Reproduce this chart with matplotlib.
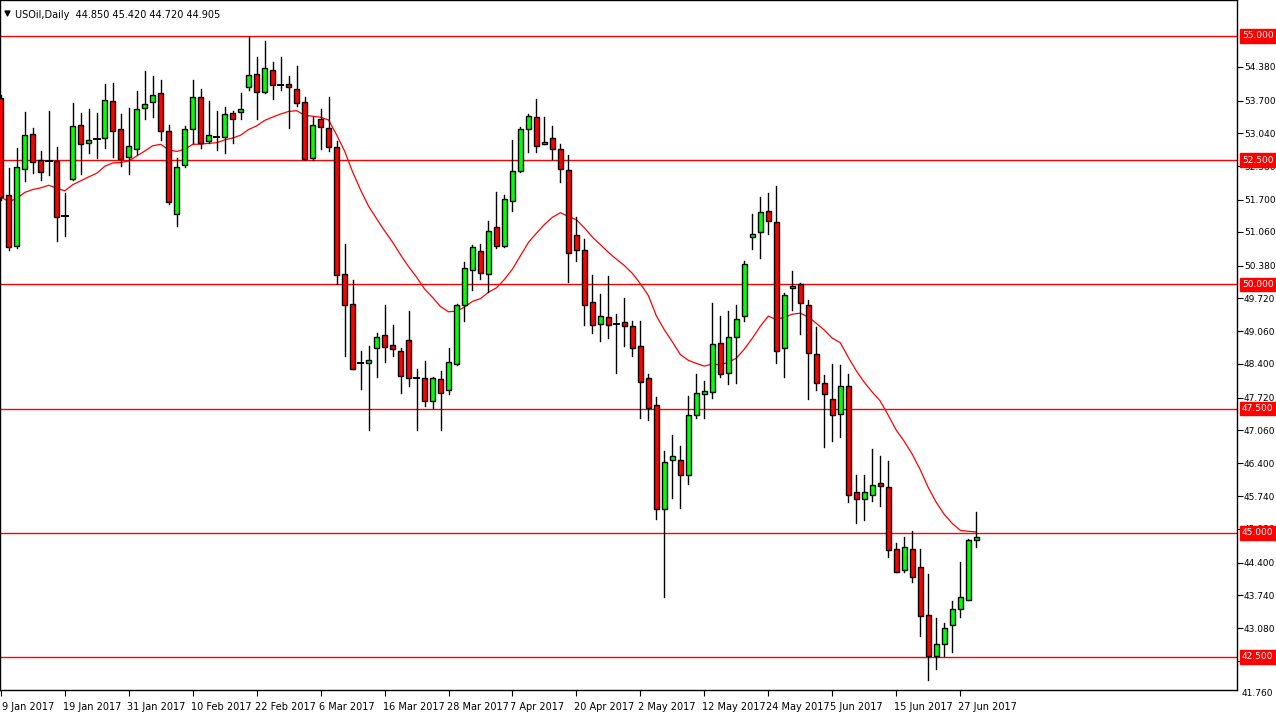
import numpy as np
import pandas as pd
import matplotlib
matplotlib.use("Agg")
from matplotlib import pyplot as plt
from matplotlib.patches import Rectangle

# daily USOil candles (oldest first)
opens = [53.75, 51.80, 50.77, 52.32, 53.03, 52.50, 52.48, 52.48, 51.38, 52.12,
         53.21, 52.85, 52.93, 52.95, 53.69, 53.13, 52.56, 52.73, 53.55, 53.67,
         53.85, 53.09, 51.42, 52.40, 53.13, 53.77, 52.89, 52.97, 52.97, 53.45,
         53.47, 53.97, 54.23, 53.87, 54.32, 54.01, 54.03, 53.93, 53.67, 52.54,
         53.33, 53.15, 52.77, 50.21, 49.60, 48.42, 48.42, 48.72, 48.98, 48.78,
         48.66, 48.88, 48.12, 48.12, 47.65, 48.10, 47.87, 48.40, 49.58, 50.29,
         50.67, 50.21, 51.16, 50.77, 51.68, 52.28, 53.13, 53.37, 52.83, 52.95,
         52.73, 52.30, 50.99, 50.69, 49.65, 49.20, 49.34, 49.20, 49.24, 49.16,
         48.76, 48.12, 47.57, 45.48, 46.46, 46.46, 46.16, 47.37, 47.79, 47.83,
         48.82, 48.22, 48.94, 49.36, 50.95, 51.05, 51.48, 51.26, 48.72, 49.93,
         50.00, 49.58, 48.60, 48.01, 47.69, 47.39, 47.95, 45.82, 45.68, 45.76,
         46.00, 45.92, 44.67, 44.25, 44.67, 44.31, 43.34, 42.52, 42.76, 43.14,
         43.46, 43.65, 44.85]
highs = [53.81, 52.34, 52.75, 53.47, 53.15, 52.69, 53.49, 52.77, 51.84, 53.65,
         53.45, 53.53, 53.45, 54.03, 54.05, 53.43, 53.55, 53.89, 54.30, 54.19,
         54.11, 53.21, 52.54, 53.19, 54.11, 53.93, 53.69, 53.49, 53.57, 53.49,
         53.85, 54.98, 54.58, 54.90, 54.48, 54.58, 54.19, 54.40, 53.77, 53.37,
         53.53, 53.77, 52.89, 50.81, 50.09, 48.66, 48.76, 49.02, 49.58, 49.18,
         48.72, 49.46, 48.30, 48.46, 48.14, 48.26, 48.72, 49.60, 50.45, 50.79,
         50.81, 51.28, 51.86, 51.80, 52.91, 53.17, 53.43, 53.73, 53.37, 53.19,
         52.83, 52.60, 51.36, 50.91, 50.19, 49.81, 50.17, 49.40, 49.73, 49.26,
         49.26, 48.20, 47.73, 46.65, 46.97, 46.75, 47.75, 48.20, 48.06, 49.62,
         49.36, 49.46, 49.58, 50.47, 51.42, 51.76, 51.84, 51.98, 49.83, 50.27,
         50.03, 49.69, 49.14, 48.18, 48.40, 48.38, 48.20, 46.16, 46.16, 46.69,
         46.55, 46.45, 44.79, 44.91, 45.04, 44.67, 44.17, 43.28, 43.18, 43.63,
         44.41, 44.87, 45.42]
lows = [51.70, 50.69, 50.73, 52.08, 52.24, 52.10, 52.20, 50.87, 50.97, 52.10,
        52.22, 52.65, 52.54, 52.75, 52.56, 52.38, 52.22, 52.62, 53.33, 53.37,
        52.91, 51.62, 51.18, 52.36, 52.85, 52.75, 52.85, 52.71, 52.65, 52.85,
        53.33, 53.91, 53.33, 53.85, 53.73, 53.91, 53.15, 53.59, 52.50, 52.50,
        52.73, 52.69, 50.00, 48.56, 48.30, 47.89, 47.07, 48.14, 48.44, 48.56,
        47.81, 47.95, 47.07, 47.55, 47.51, 47.07, 47.79, 48.38, 49.26, 49.89,
        50.11, 49.85, 50.73, 50.75, 51.48, 52.26, 52.67, 52.67, 52.83, 52.52,
        52.06, 50.05, 50.47, 49.18, 49.02, 48.86, 48.92, 48.22, 48.76, 48.56,
        47.31, 47.27, 45.28, 43.71, 45.70, 45.50, 45.98, 47.31, 47.31, 47.71,
        48.14, 47.99, 48.01, 49.26, 50.71, 50.53, 51.01, 48.42, 48.14, 49.48,
        49.00, 47.69, 47.87, 46.73, 46.85, 46.93, 45.62, 45.20, 45.26, 45.64,
        45.54, 44.51, 44.21, 44.21, 44.01, 42.92, 42.04, 42.26, 42.52, 42.60,
        43.30, 43.65, 44.72]
closes = [51.76, 50.75, 52.36, 53.01, 52.46, 52.26, 52.50, 51.36, 51.38, 53.19,
          52.83, 52.91, 52.93, 53.71, 53.09, 52.52, 52.79, 53.53, 53.63, 53.81,
          53.09, 51.66, 52.36, 53.13, 53.77, 52.85, 53.01, 52.97, 53.43, 53.33,
          53.53, 54.21, 53.87, 54.36, 54.01, 54.01, 53.97, 53.65, 52.52, 53.21,
          53.17, 52.77, 50.19, 49.58, 48.30, 48.42, 48.48, 48.94, 48.74, 48.70,
          48.16, 48.12, 48.12, 47.65, 48.12, 47.81, 48.44, 49.58, 50.33, 50.75,
          50.23, 51.07, 50.77, 51.72, 52.28, 53.13, 53.39, 52.79, 52.87, 52.73,
          52.32, 50.63, 50.69, 49.58, 49.18, 49.36, 49.18, 49.20, 49.16, 48.72,
          48.04, 47.51, 45.48, 46.42, 46.54, 46.16, 47.37, 47.81, 47.85, 48.80,
          48.20, 48.94, 49.30, 50.41, 51.01, 51.46, 51.28, 48.66, 49.78, 49.97,
          49.62, 48.62, 48.01, 47.79, 47.37, 47.95, 45.76, 45.68, 45.82, 45.96,
          45.94, 44.65, 44.21, 44.71, 44.11, 43.32, 42.52, 42.76, 43.08, 43.46,
          43.71, 44.85, 44.905]

levels = [55.0, 52.5, 50.0, 47.5, 45.0, 42.5]
price_ticks = [54.38, 53.70, 53.04, 52.38, 51.70, 51.06, 50.38, 49.72, 49.06,
               48.40, 47.72, 47.06, 46.40, 45.74, 45.08, 44.40, 43.74, 43.08, 42.42]
date_labels = ["9 Jan 2017", "19 Jan 2017", "31 Jan 2017", "10 Feb 2017", "22 Feb 2017",
               "6 Mar 2017", "16 Mar 2017", "28 Mar 2017", "7 Apr 2017", "20 Apr 2017",
               "2 May 2017", "12 May 2017", "24 May 2017", "5 Jun 2017", "15 Jun 2017",
               "27 Jun 2017"]

W, H = 1276, 720
fig = plt.figure(figsize=(W / 100, H / 100), dpi=100)
ax = fig.add_axes([0, 30 / H, 1237 / W, 690 / H])
ax.set_xlim(-0.1, 1237 / 8)
ppu = 1 / 0.02013  # pixels per dollar
ax.set_ylim(55 - 654 / ppu, 55 + 36 / ppu)

n = len(opens)
x = np.arange(n)
ma = pd.Series(closes).ewm(span=20, adjust=False).mean()
ax.plot(x, ma, color="#ff0000", lw=0.9, zorder=2)

for lv in levels:
    ax.axhline(lv, color="#ff0000", lw=1.0, zorder=1)

for i in range(n):
    o, h, l, c = opens[i], highs[i], lows[i], closes[i]
    ax.plot([i, i], [l, h], color="black", lw=1.0, zorder=3)
    lo, hi = min(o, c), max(o, c)
    col = "#00ff00" if c >= o else "#ff0000"
    if hi - lo < 0.03:
        ax.plot([i - 0.35, i + 0.35], [o, o], color="black", lw=1.4, zorder=4)
    else:
        ax.add_patch(Rectangle((i - 0.33, lo), 0.66, hi - lo, facecolor=col,
                               edgecolor="black", lw=1.0, zorder=4))

for s in ax.spines.values():
    s.set_color("black")
    s.set_linewidth(1.0)

ax.yaxis.tick_right()
ax.set_yticks(price_ticks)
ax.set_yticklabels([f"{p:.3f}" for p in price_ticks], fontsize=6.5, family="DejaVu Sans")
ax.tick_params(axis="y", length=4, pad=1)
ax.text(1.004, 41.76, "41.760", transform=ax.get_yaxis_transform(), fontsize=6.5,
        va="center", ha="left", clip_on=False)
for lv in levels:
    ax.text(1.004, lv, f"{lv:.3f}", transform=ax.get_yaxis_transform(), fontsize=6.5,
            va="center", ha="left", color="white", clip_on=False, zorder=10,
            bbox=dict(boxstyle="square,pad=0.25", fc="#ff0000", ec="#ff0000"))

ax.set_xticks([8 * m for m in range(len(date_labels))])
ax.set_xticklabels([])
ax.tick_params(axis="x", length=4, direction="out")
for m, lab in enumerate(date_labels):
    ax.text(max(8 * m - 0.25, 0.2), -0.018, lab, transform=ax.get_xaxis_transform(),
            fontsize=7, ha="left", va="top", clip_on=False)

ax.text(0.012, 0.985, "USOil,Daily  44.850 45.420 44.720 44.905", transform=ax.transAxes,
        fontsize=7, ha="left", va="top")
ax.scatter([0.006], [0.981], marker="v", s=12, color="black", transform=ax.transAxes)

fig.savefig("out.png", dpi=100, facecolor="white")
